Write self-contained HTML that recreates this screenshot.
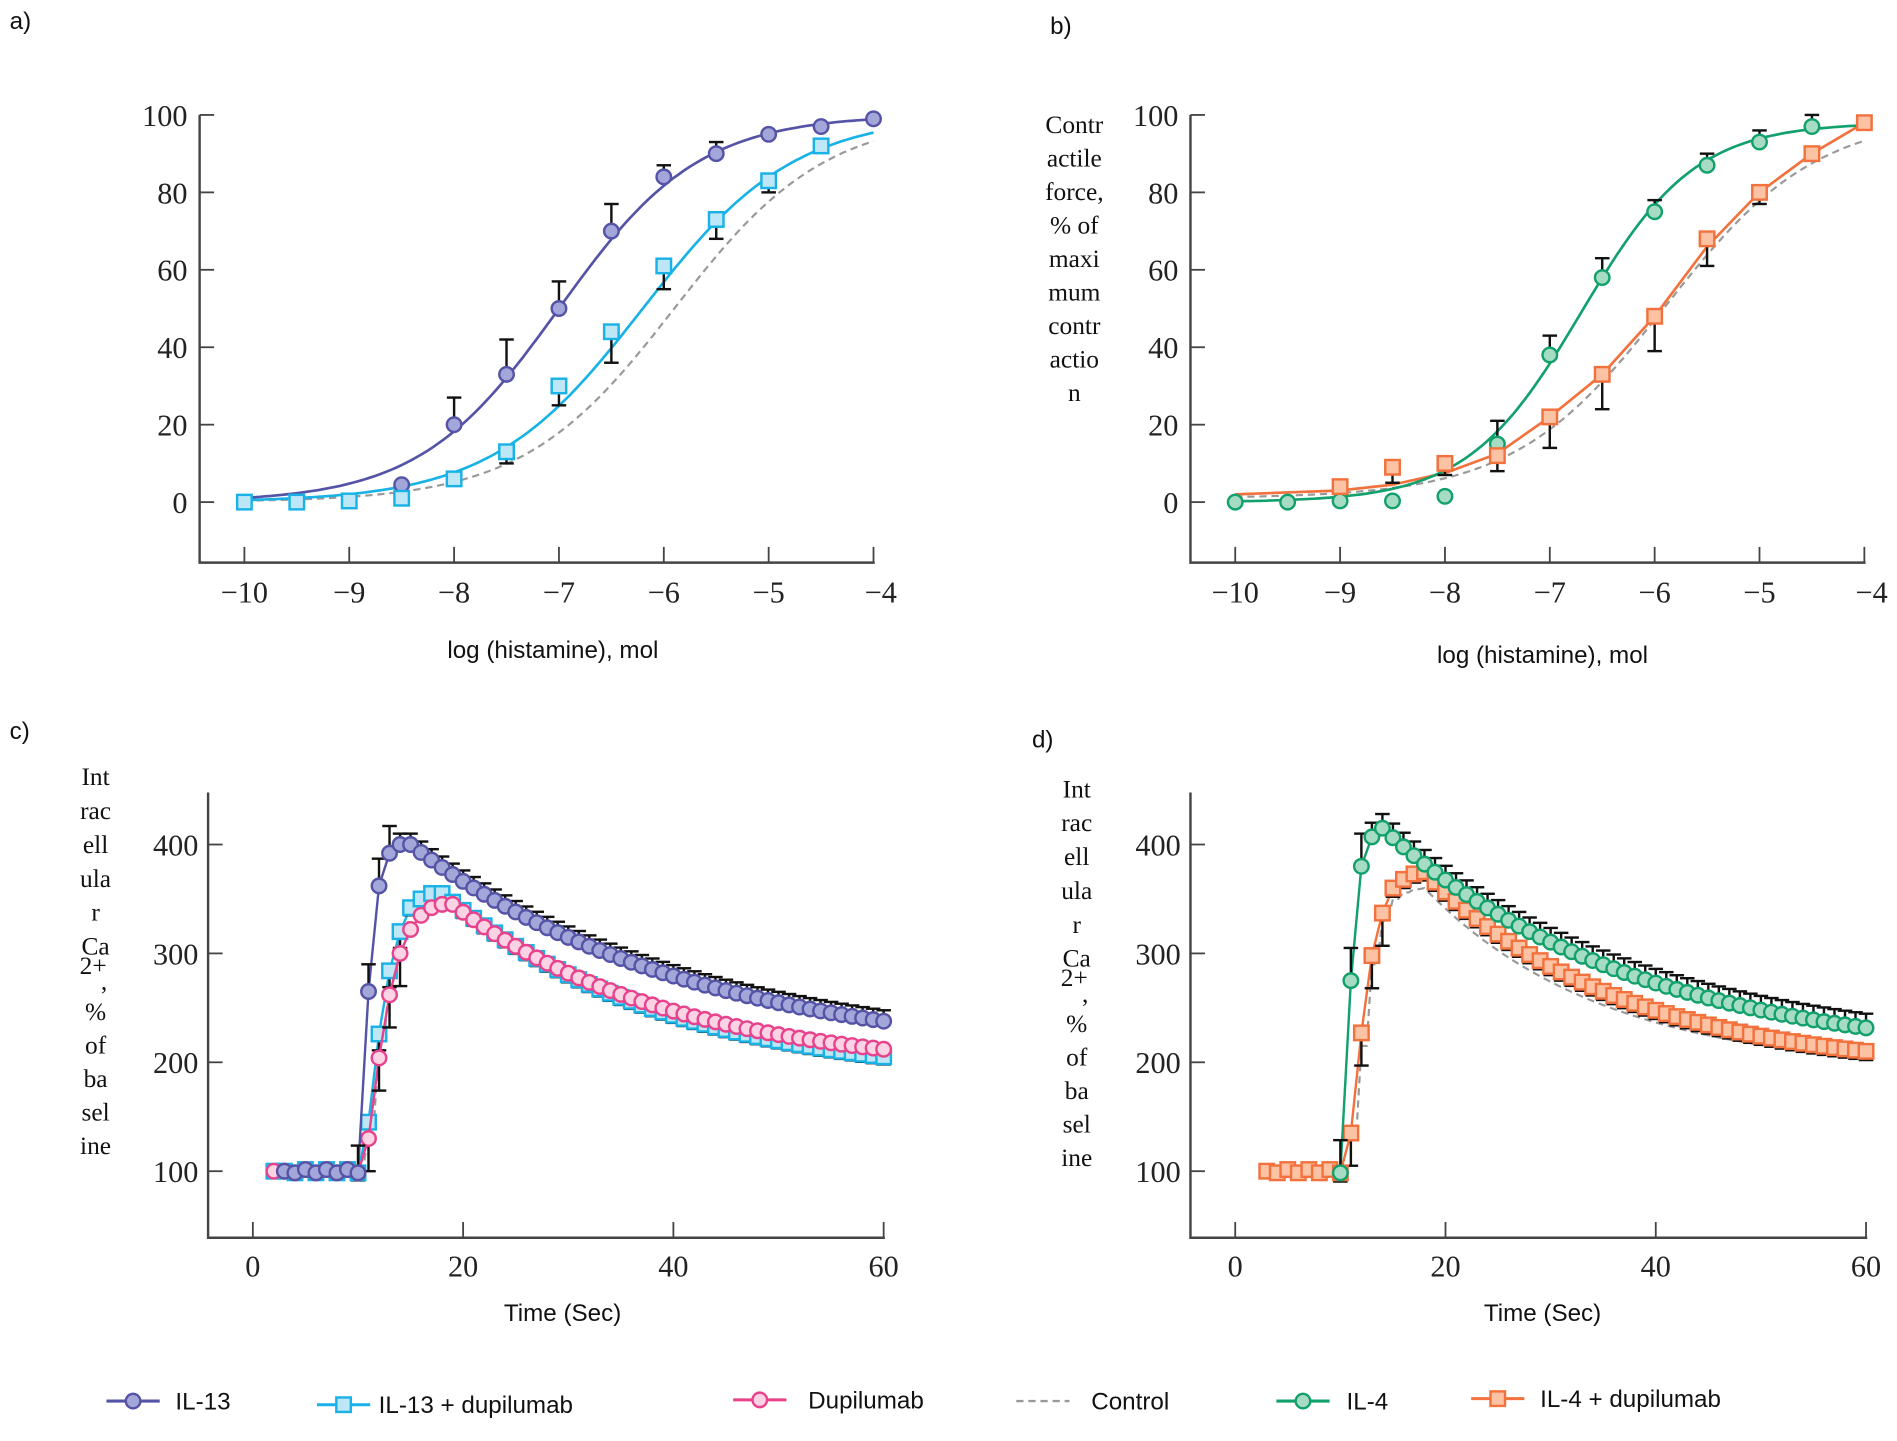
<!DOCTYPE html>
<html><head><meta charset="utf-8">
<style>
html,body{margin:0;padding:0;background:#fff;}
svg{display:block;}
.tk{font-family:"Liberation Serif",serif;font-size:25px;fill:#222;}
.lb{font-family:"Liberation Sans",sans-serif;font-size:20px;fill:#111;}
.yl{font-family:"Liberation Serif",serif;font-size:21px;fill:#111;}
</style></head>
<body>
<svg id="s" width="1897" height="1441" viewBox="0 0 1568 1191" preserveAspectRatio="none" xmlns="http://www.w3.org/2000/svg">
<text class="lb" x="8" y="24">a)</text>
<text class="lb" x="868" y="28">b)</text>
<text class="lb" x="8" y="611">c)</text>
<text class="lb" x="853" y="618">d)</text>
<text class="lb" x="457" y="544" text-anchor="middle">log (histamine), mol</text>
<text class="lb" x="1275" y="548" text-anchor="middle">log (histamine), mol</text>
<text class="lb" x="465" y="1092" text-anchor="middle">Time (Sec)</text>
<text class="lb" x="1275" y="1092" text-anchor="middle">Time (Sec)</text>
<g id="g"></g>
</svg>
<script>
var NS="http://www.w3.org/2000/svg",G=document.getElementById('g');
function el(t,a,txt){var e=document.createElementNS(NS,t);for(var k in a)e.setAttribute(k,a[k]);if(txt!==undefined)e.textContent=txt;G.appendChild(e);return e;}
var C={il13:['#5553a6','#a3a6d9'],il13d:['#19b2e6','#bde6f7'],dup:['#e8428c','#fbd3e4'],il4:['#12a06c','#a6dcc3'],il4d:['#f2713d','#fbc3a4']};
// ---------- dose-response panels
function dr(ax,lab){
  var X=function(v){return ax+37+(v+10)*86.67;},Y=function(v){return 415-v*3.2;};
  el('path',{d:'M'+ax+' 95 V465 H'+(X(-4)+1),stroke:'#444','stroke-width':2,fill:'none'});
  for(var v=0;v<=100;v+=20){el('line',{x1:ax,x2:ax+12,y1:Y(v),y2:Y(v),stroke:'#444','stroke-width':1.5});
    el('text',{class:'tk',x:ax-10,y:Y(v)+9,'text-anchor':'end'},v);}
  for(var v=-10;v<=-4;v++){el('line',{x1:X(v),x2:X(v),y1:465,y2:452,stroke:'#444','stroke-width':1.5});
    el('text',{class:'tk',x:X(v)+(v==-4?6:0),y:498,'text-anchor':'middle'},'\u2212'+(-v));}
  return [X,Y];
}
function hill(ec,h,top,bot){return function(x){return bot+(top-bot)/(1+Math.pow(10,(ec-x)*h));};}
function curve(XY,f,col,dash){var p=[];for(var x=-10;x<=-4.0001+0.001;x+=0.05)p.push(XY[0](x).toFixed(1)+','+XY[1](f(x)).toFixed(1));
  var a={points:p.join(' '),fill:'none',stroke:col,'stroke-width':dash?1.8:2.2};if(dash)a['stroke-dasharray']='6,4';el('polyline',a);}
function poly(XY,pts,col){el('polyline',{points:pts.map(function(p){return XY[0](p[0])+','+XY[1](p[1]);}).join(' '),fill:'none',stroke:col,'stroke-width':2.2});}
function eb(x,y1,y2){el('line',{x1:x,x2:x,y1:y1,y2:y2,stroke:'#111','stroke-width':2});el('line',{x1:x-6,x2:x+6,y1:y2,y2:y2,stroke:'#111','stroke-width':2});}
function mk(shape,x,y,c,r){r=r||6;if(shape=='c')el('circle',{cx:x,cy:y,r:r,fill:c[1],stroke:c[0],'stroke-width':2});
  else el('rect',{x:x-r,y:y-r,width:2*r,height:2*r,fill:c[1],stroke:c[0],'stroke-width':2});}
// Panel a
var A=dr(165);
curve(A,hill(-5.9,0.6,100,0),'#999',true);
curve(A,hill(-6.2,0.6,100,0),C.il13d[0]);
curve(A,hill(-7,0.65,100,0),C.il13[0]);
var a1=[[-8.5,4.5],[-8,20],[-7.5,33],[-7,50],[-6.5,70],[-6,84],[-5.5,90],[-5,95],[-4.5,97],[-4,99]];
var a1e={'-8':27,'-7.5':42,'-7':57,'-6.5':77,'-6':87,'-5.5':93};
var a2=[[-10,0],[-9.5,0],[-9,0.3],[-8.5,1],[-8,6],[-7.5,13],[-7,30],[-6.5,44],[-6,61],[-5.5,73],[-5,83],[-4.5,92]];
var a2e={'-7.5':10,'-7':25,'-6.5':36,'-6':55,'-5.5':68,'-5':80};
a1.forEach(function(p){if(a1e[p[0]])eb(A[0](p[0]),A[1](p[1]),A[1](a1e[p[0]]));});
a2.forEach(function(p){if(a2e[p[0]])eb(A[0](p[0]),A[1](p[1]),A[1](a2e[p[0]]));});
a1.forEach(function(p){mk('c',A[0](p[0]),A[1](p[1]),C.il13);});
a2.forEach(function(p){mk('s',A[0](p[0]),A[1](p[1]),C.il13d);});
// Panel b
var B=dr(984);
curve(B,hill(-5.9,0.6,100,1),'#999',true);
var b2=[[-9,4],[-8.5,9],[-8,10],[-7.5,12],[-7,22],[-6.5,33],[-6,48],[-5.5,68],[-5,80],[-4.5,90],[-4,98]];
poly(B,[[-10,2],[-9,3],[-8.5,4.5],[-8,7.5],[-7.5,12.5],[-7,22],[-6.5,33],[-6,48],[-5.5,66],[-5,80],[-4.5,90],[-4,98]],C.il4d[0]);
curve(B,hill(-6.7,0.8,98,0),C.il4[0]);
var b1=[[-10,0],[-9.5,0],[-9,0.3],[-8.5,0.3],[-8,1.5],[-7.5,15],[-7,38],[-6.5,58],[-6,75],[-5.5,87],[-5,93],[-4.5,97]];
var b1e={'-7.5':21,'-7':43,'-6.5':63,'-6':78,'-5.5':90,'-5':96,'-4.5':100};
var b2e={'-8.5':5,'-8':7,'-7.5':8,'-7':14,'-6.5':24,'-6':39,'-5.5':61,'-5':77};
b1.forEach(function(p){if(b1e[p[0]])eb(B[0](p[0]),B[1](p[1]),B[1](b1e[p[0]]));});
b2.forEach(function(p){if(b2e[p[0]])eb(B[0](p[0]),B[1](p[1]),B[1](b2e[p[0]]));});
b1.forEach(function(p){mk('c',B[0](p[0]),B[1](p[1]),C.il4);});
b2.forEach(function(p){mk('s',B[0](p[0]),B[1](p[1]),C.il4d);});
// y label b
['Contr','actile','force,','% of','maxi','mum','contr','actio','n'].forEach(function(t,i){el('text',{class:'yl',x:888,y:110+i*27.7,'text-anchor':'middle'},t);});
// ---------- time panels
function tp(ax){
  var X=function(t){return ax+37+t*8.69;},Y=function(v){return 968-(v-100)*0.9;};
  el('path',{d:'M'+ax+' 655 V1023 H'+(X(60)+1),stroke:'#444','stroke-width':2,fill:'none'});
  [100,200,300,400].forEach(function(v){el('line',{x1:ax,x2:ax+12,y1:Y(v),y2:Y(v),stroke:'#444','stroke-width':1.5});
    el('text',{class:'tk',x:ax-8,y:Y(v)+9,'text-anchor':'end'},v);});
  [0,20,40,60].forEach(function(v){el('line',{x1:X(v),x2:X(v),y1:1023,y2:1010,stroke:'#444','stroke-width':1.5});
    el('text',{class:'tk',x:X(v),y:1055,'text-anchor':'middle'},v);});
  return [X,Y];
}
function ts(rise,tp_,peak,asym,tau){return function(t){if(t<=10)return 100+(t%2?1:-1)*1.5*(t>3?1:0);
  var k=Math.floor(t);if(t<tp_){if(rise[k]!==undefined)return rise[k];return peak;}return asym+(peak-asym)*Math.exp(-(t-tp_)/tau);};}
function series(P,f,shape,c,t0,errUp,errDn){
  var p=[];for(var t=t0;t<=60;t++)p.push(P[0](t)+','+P[1](f(t)));
  el('polyline',{points:p.join(' '),fill:'none',stroke:c[0],'stroke-width':2});
  for(var t=t0;t<=60;t++){var y=f(t);if(t>=10){if(errUp)eb(P[0](t),P[1](y),P[1](y+errUp(t)));if(errDn)eb(P[0](t),P[1](y),P[1](y-errDn(t)));}}
  for(var t=t0;t<=60;t++)mk(shape,P[0](t),P[1](f(t)),c,6);
}
function dashc(P,f,t0){var p=[];for(var t=t0;t<=60;t+=0.5)p.push(P[0](t)+','+P[1](f(t)));el('polyline',{points:p.join(' '),fill:'none',stroke:'#999','stroke-width':1.8,'stroke-dasharray':'6,4'});}
var Cc=tp(172);
dashc(Cc,ts({10:100,11:140,12:220,13:280,14:318,15:340,16:350,17:355},18,355,180,21.6),3);
series(Cc,ts({10:100,11:145,12:226,13:284,14:320,15:342,16:350,17:355},18,355,180,21.6),'s',C.il13d,2,null,function(t){return t>10&&t<15?15:7;});
series(Cc,ts({10:98,11:130,12:204,13:262,14:300,15:322,16:335,17:342,18:345},19,345,190,21),'c',C.dup,2,null,function(t){return t>10&&t<15?30:0;});
series(Cc,ts({10:115,11:265,12:362,13:392,14:400},15,400,200,27),'c',C.il13,3,function(t){return t<14?25:10;},null);
['Int','rac','ell','ula','r','Ca'].forEach(function(t,i){el('text',{class:'yl',x:79,y:649+i*28,'text-anchor':'middle'},t);});
el('text',{class:'yl',x:77,y:805,'text-anchor':'middle','font-size':13},'2+');
el('text',{class:'yl',x:86,y:818,'text-anchor':'middle','font-size':15},',');
['%','of','ba','sel','ine'].forEach(function(t,i){el('text',{class:'yl',x:79,y:843+i*27.7,'text-anchor':'middle'},t);});
var D=tp(984);
dashc(D,ts({10:100,11:130,12:215,13:290,14:330,15:350,16:356,17:359},18,360,190,17),11);
series(D,ts({10:100,11:135,12:227,13:298,14:337,15:360,16:368,17:373},18,375,190,18.9),'s',C.il4d,3,null,function(t){return t>10&&t<15?30:8;});
series(D,ts({10:113,11:275,12:380,13:407},14,415,200,24),'c',C.il4,10,function(t){return t<13?30:13;},null);
['Int','rac','ell','ula','r','Ca'].forEach(function(t,i){el('text',{class:'yl',x:890,y:659+i*28,'text-anchor':'middle'},t);});
el('text',{class:'yl',x:888,y:815,'text-anchor':'middle','font-size':13},'2+');
el('text',{class:'yl',x:897,y:828,'text-anchor':'middle','font-size':15},',');
['%','of','ba','sel','ine'].forEach(function(t,i){el('text',{class:'yl',x:890,y:853+i*27.7,'text-anchor':'middle'},t);});
// ---------- legend
var L=[[88,145,'IL-13',C.il13,'c',1158],[262,313,'IL-13 + dupilumab',C.il13d,'s',1161],[606,668,'Dupilumab',C.dup,'c',1157],[840,902,'Control',null,'d',1158],[1055,1113,'IL-4',C.il4,'c',1158],[1216,1273,'IL-4 + dupilumab',C.il4d,'s',1156]];
L.forEach(function(l){var y=l[5];
  if(l[4]=='d'){el('line',{x1:l[0],x2:l[0]+44,y1:y,y2:y,stroke:'#999','stroke-width':2,'stroke-dasharray':'6,4'});}
  else{el('line',{x1:l[0],x2:l[0]+44,y1:y,y2:y,stroke:l[3][0],'stroke-width':2.5});mk(l[4],l[0]+22,y,l[3],6);}
  el('text',{class:'lb',x:l[1],y:y+7},l[2]);});
</script>
</body></html>
